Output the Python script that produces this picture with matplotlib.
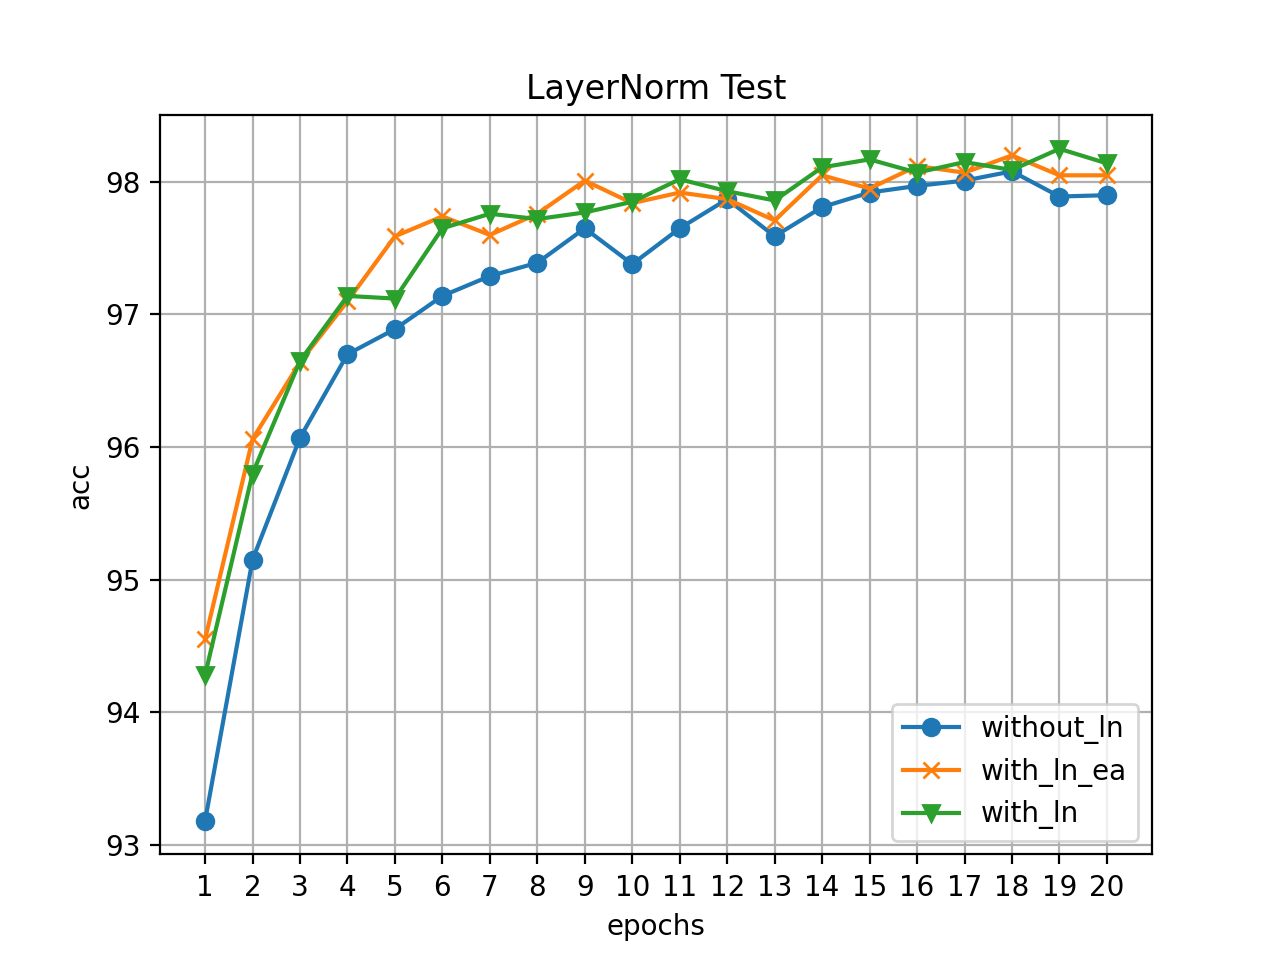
import numpy as np
import matplotlib
matplotlib.use("Agg")
import matplotlib.pyplot as plt

epochs = list(range(1, 21))

without_ln = [93.18, 95.15, 96.07, 96.70, 96.89, 97.14, 97.29, 97.39, 97.65, 97.38,
              97.65, 97.87, 97.59, 97.81, 97.92, 97.97, 98.01, 98.08, 97.89, 97.90]
with_ln_ea = [94.55, 96.06, 96.64, 97.10, 97.59, 97.74, 97.60, 97.76, 98.01, 97.84,
              97.92, 97.87, 97.71, 98.05, 97.95, 98.12, 98.07, 98.20, 98.05, 98.05]
with_ln = [94.28, 95.80, 96.65, 97.14, 97.12, 97.65, 97.76, 97.72, 97.77, 97.85,
           98.02, 97.93, 97.86, 98.11, 98.17, 98.07, 98.15, 98.09, 98.25, 98.14]

plt.figure(figsize=(6.4, 4.8), dpi=200)
plt.plot(epochs, without_ln, marker='o', label='without_ln')
plt.plot(epochs, with_ln_ea, marker='x', label='with_ln_ea')
plt.plot(epochs, with_ln, marker='v', label='with_ln')
plt.xticks(epochs)
plt.title("LayerNorm Test")
plt.xlabel("epochs")
plt.ylabel("acc")
plt.grid(True)
plt.legend(loc='lower right')
plt.savefig("out.png", dpi=200)
